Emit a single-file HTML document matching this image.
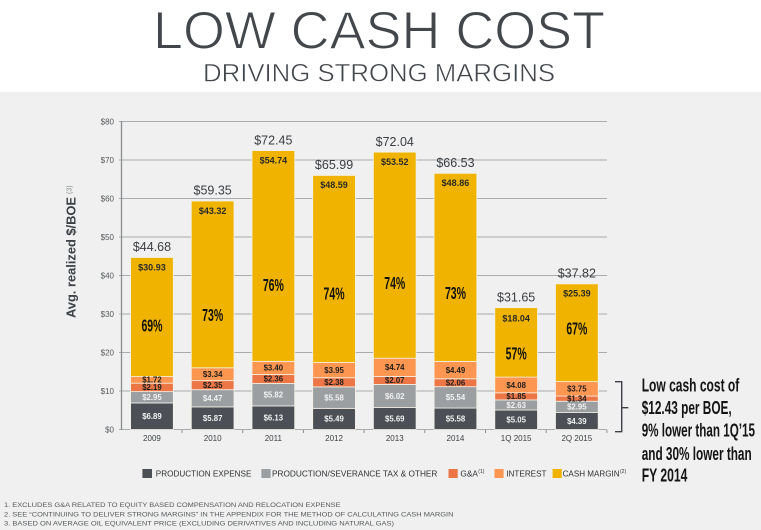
<!DOCTYPE html>
<html><head><meta charset="utf-8"><style>
html,body{margin:0;padding:0;background:#fff;}
svg{display:block;font-family:"Liberation Sans",sans-serif;}
</style></head><body>
<svg width="761" height="530" viewBox="0 0 761 530" xmlns="http://www.w3.org/2000/svg">
<rect x="0" y="0" width="761" height="92" fill="#ffffff"/>
<rect x="0" y="92" width="761" height="438" fill="#eff0ef"/>
<!-- Titles -->
<text x="153" y="48.3" font-size="52.5" fill="#43474c" stroke="#ffffff" stroke-width="1.1" textLength="452" lengthAdjust="spacingAndGlyphs">LOW CASH COST</text>
<text x="203" y="81.7" font-size="25" fill="#43474c" stroke="#ffffff" stroke-width="0.5" textLength="352" lengthAdjust="spacingAndGlyphs">DRIVING STRONG MARGINS</text>

<!-- grid -->
<g stroke="#a9acae" stroke-width="1">
<line x1="119" y1="121.5" x2="607" y2="121.5"/>
<line x1="119" y1="160" x2="607" y2="160"/>
<line x1="119" y1="198.5" x2="607" y2="198.5"/>
<line x1="119" y1="237" x2="607" y2="237"/>
<line x1="119" y1="275.5" x2="607" y2="275.5"/>
<line x1="119" y1="314" x2="607" y2="314"/>
<line x1="119" y1="352.5" x2="607" y2="352.5"/>
<line x1="119" y1="391" x2="607" y2="391"/>
<line x1="119" y1="429.5" x2="607" y2="429.5"/>
</g>
<line x1="121.5" y1="121" x2="121.5" y2="430" stroke="#8a8d90" stroke-width="1.3"/>
<g stroke="#8a8d90" stroke-width="1">
<line x1="182" y1="430" x2="182" y2="433"/>
<line x1="242.7" y1="430" x2="242.7" y2="433"/>
<line x1="303.4" y1="430" x2="303.4" y2="433"/>
<line x1="364.1" y1="430" x2="364.1" y2="433"/>
<line x1="424.8" y1="430" x2="424.8" y2="433"/>
<line x1="485.5" y1="430" x2="485.5" y2="433"/>
<line x1="546.2" y1="430" x2="546.2" y2="433"/>
<line x1="606.9" y1="430" x2="606.9" y2="433"/>
</g>
<!-- y tick labels -->
<g font-size="8" fill="#55585c" text-anchor="end">
<text x="114" y="124.3">$80</text>
<text x="114" y="162.8">$70</text>
<text x="114" y="201.3">$60</text>
<text x="114" y="239.8">$50</text>
<text x="114" y="278.3">$40</text>
<text x="114" y="316.8">$30</text>
<text x="114" y="355.3">$20</text>
<text x="114" y="393.8">$10</text>
<text x="114" y="432.3">$0</text>
</g>
<!-- y axis title -->
<g transform="translate(75.5,318) rotate(-90)">
<text x="0" y="0" font-size="12.5" font-weight="bold" fill="#3d4045" textLength="121" lengthAdjust="spacingAndGlyphs">Avg. realized $/BOE</text>
<text x="124" y="-4" font-size="7" fill="#8a8d90">(3)</text>
</g>

<!-- bars -->
<g stroke="#f4f1e6" stroke-width="0.8">
<!-- 2009 -->
<rect x="130.6" y="402.97" width="42.7" height="26.53" fill="#4c5056"/>
<rect x="130.6" y="391.62" width="42.7" height="11.35" fill="#9c9fa2"/>
<rect x="130.6" y="383.18" width="42.7" height="8.44" fill="#ec7646"/>
<rect x="130.6" y="376.56" width="42.7" height="6.62" fill="#fd9650"/>
<rect x="130.6" y="257.48" width="42.7" height="119.08" fill="#f0b400"/>
<!-- 2010 -->
<rect x="191.3" y="406.90" width="42.7" height="22.60" fill="#4c5056"/>
<rect x="191.3" y="389.69" width="42.7" height="17.21" fill="#9c9fa2"/>
<rect x="191.3" y="380.64" width="42.7" height="9.05" fill="#ec7646"/>
<rect x="191.3" y="367.78" width="42.7" height="12.86" fill="#fd9650"/>
<rect x="191.3" y="201.00" width="42.7" height="166.78" fill="#f0b400"/>
<!-- 2011 -->
<rect x="252.0" y="405.90" width="42.7" height="23.60" fill="#4c5056"/>
<rect x="252.0" y="383.49" width="42.7" height="22.41" fill="#9c9fa2"/>
<rect x="252.0" y="374.41" width="42.7" height="9.08" fill="#ec7646"/>
<rect x="252.0" y="361.32" width="42.7" height="13.09" fill="#fd9650"/>
<rect x="252.0" y="150.57" width="42.7" height="210.75" fill="#f0b400"/>
<!-- 2012 -->
<rect x="312.7" y="408.36" width="42.7" height="21.14" fill="#4c5056"/>
<rect x="312.7" y="386.88" width="42.7" height="21.48" fill="#9c9fa2"/>
<rect x="312.7" y="377.72" width="42.7" height="9.16" fill="#ec7646"/>
<rect x="312.7" y="362.51" width="42.7" height="15.21" fill="#fd9650"/>
<rect x="312.7" y="175.44" width="42.7" height="187.07" fill="#f0b400"/>
<!-- 2013 -->
<rect x="373.4" y="407.59" width="42.7" height="21.91" fill="#4c5056"/>
<rect x="373.4" y="384.42" width="42.7" height="23.17" fill="#9c9fa2"/>
<rect x="373.4" y="376.45" width="42.7" height="7.97" fill="#ec7646"/>
<rect x="373.4" y="358.20" width="42.7" height="18.25" fill="#fd9650"/>
<rect x="373.4" y="152.15" width="42.7" height="206.05" fill="#f0b400"/>
<!-- 2014 -->
<rect x="434.1" y="408.02" width="42.7" height="21.48" fill="#4c5056"/>
<rect x="434.1" y="386.69" width="42.7" height="21.33" fill="#9c9fa2"/>
<rect x="434.1" y="378.76" width="42.7" height="7.93" fill="#ec7646"/>
<rect x="434.1" y="361.47" width="42.7" height="17.29" fill="#fd9650"/>
<rect x="434.1" y="173.36" width="42.7" height="188.11" fill="#f0b400"/>
<!-- 1Q 2015 -->
<rect x="494.8" y="410.06" width="42.7" height="19.44" fill="#4c5056"/>
<rect x="494.8" y="399.93" width="42.7" height="10.13" fill="#9c9fa2"/>
<rect x="494.8" y="392.81" width="42.7" height="7.12" fill="#ec7646"/>
<rect x="494.8" y="377.10" width="42.7" height="15.71" fill="#fd9650"/>
<rect x="494.8" y="307.65" width="42.7" height="69.45" fill="#f0b400"/>
<!-- 2Q 2015 -->
<rect x="555.5" y="412.60" width="42.7" height="16.90" fill="#4c5056"/>
<rect x="555.5" y="401.24" width="42.7" height="11.36" fill="#9c9fa2"/>
<rect x="555.5" y="396.08" width="42.7" height="5.16" fill="#ec7646"/>
<rect x="555.5" y="381.64" width="42.7" height="14.44" fill="#fd9650"/>
<rect x="555.5" y="283.89" width="42.7" height="97.75" fill="#f0b400"/>
</g>

<!-- segment labels white -->
<g font-size="7.8" font-weight="bold" fill="#f2f2f2" text-anchor="middle">
<text x="151.95" y="419.0">$6.89</text><text x="151.95" y="400.1">$2.95</text>
<text x="212.65" y="421.0">$5.87</text><text x="212.65" y="401.1">$4.47</text>
<text x="273.35" y="420.5">$6.13</text><text x="273.35" y="397.5">$5.82</text>
<text x="334.05" y="421.7">$5.49</text><text x="334.05" y="400.4">$5.58</text>
<text x="394.75" y="421.3">$5.69</text><text x="394.75" y="398.8">$6.02</text>
<text x="455.45" y="421.6">$5.58</text><text x="455.45" y="400.2">$5.54</text>
<text x="516.15" y="422.6">$5.05</text><text x="516.15" y="407.8">$2.63</text>
<text x="576.85" y="423.8">$4.39</text><text x="576.85" y="409.7">$2.95</text>
</g>
<!-- segment labels dark -->
<g font-size="7.8" font-weight="bold" fill="#1e1e1e" text-anchor="middle">
<text x="151.95" y="390.2">$2.19</text><text x="151.95" y="382.7">$1.72</text>
<text x="212.65" y="388.0">$2.35</text><text x="212.65" y="377.0">$3.34</text>
<text x="273.35" y="381.7">$2.36</text><text x="273.35" y="370.7">$3.40</text>
<text x="334.05" y="385.1">$2.38</text><text x="334.05" y="372.9">$3.95</text>
<text x="394.75" y="383.2">$2.07</text><text x="394.75" y="370.1">$4.74</text>
<text x="455.45" y="385.5">$2.06</text><text x="455.45" y="372.9">$4.49</text>
<text x="516.15" y="399.2">$1.85</text><text x="516.15" y="387.8">$4.08</text>
<text x="576.85" y="401.5">$1.34</text><text x="576.85" y="391.7">$3.75</text>
</g>
<!-- cash margin labels -->
<g font-size="9" font-weight="bold" fill="#2a2a2a" text-anchor="middle">
<text x="151.95" y="270.3">$30.93</text>
<text x="212.65" y="213.8">$43.32</text>
<text x="273.35" y="163.4">$54.74</text>
<text x="334.05" y="188.2">$48.59</text>
<text x="394.75" y="165.0">$53.52</text>
<text x="455.45" y="186.2">$48.86</text>
<text x="516.15" y="321.6">$18.04</text>
<text x="576.85" y="296.7">$25.39</text>
</g>
<!-- totals -->
<g font-size="12.5" fill="#3a3d42" text-anchor="middle">
<text x="151.95" y="251.2">$44.68</text>
<text x="212.65" y="194.7">$59.35</text>
<text x="273.35" y="144.3">$72.45</text>
<text x="334.05" y="169.1">$65.99</text>
<text x="394.75" y="145.8">$72.04</text>
<text x="455.45" y="167.0">$66.53</text>
<text x="516.15" y="301.3">$31.65</text>
<text x="576.85" y="277.5">$37.82</text>
</g>
<!-- percentages -->
<g font-size="17.5" font-weight="bold" fill="#111" text-anchor="middle">
<text x="151.95" y="331.7" textLength="21" lengthAdjust="spacingAndGlyphs">69%</text>
<text x="212.65" y="321.2" textLength="21" lengthAdjust="spacingAndGlyphs">73%</text>
<text x="273.35" y="291.2" textLength="21" lengthAdjust="spacingAndGlyphs">76%</text>
<text x="334.05" y="299.5" textLength="21" lengthAdjust="spacingAndGlyphs">74%</text>
<text x="394.75" y="288.9" textLength="21" lengthAdjust="spacingAndGlyphs">74%</text>
<text x="455.45" y="298.9" textLength="21" lengthAdjust="spacingAndGlyphs">73%</text>
<text x="516.15" y="359.5" textLength="21" lengthAdjust="spacingAndGlyphs">57%</text>
<text x="576.85" y="334.5" textLength="21" lengthAdjust="spacingAndGlyphs">67%</text>
</g>
<!-- x labels -->
<g font-size="8" fill="#3d4045" text-anchor="middle">
<text x="151.95" y="441.2">2009</text>
<text x="212.65" y="441.2">2010</text>
<text x="273.35" y="441.2">2011</text>
<text x="334.05" y="441.2">2012</text>
<text x="394.75" y="441.2">2013</text>
<text x="455.45" y="441.2">2014</text>
<text x="516.15" y="441.2">1Q 2015</text>
<text x="576.85" y="441.2">2Q 2015</text>
</g>

<!-- bracket -->
<path d="M615,381.7 L621.7,381.7 L621.7,431.7 L615,431.7 M621.7,407.7 L628.3,407.7" fill="none" stroke="#3d4045" stroke-width="1.4"/>
<!-- annotation -->
<g font-size="18" font-weight="bold" fill="#141414">
<text x="641.7" y="391.5" textLength="97.6" lengthAdjust="spacingAndGlyphs">Low cash cost of</text>
<text x="641.7" y="414.2" textLength="90" lengthAdjust="spacingAndGlyphs">$12.43 per BOE,</text>
<text x="641.7" y="436.5" textLength="113.3" lengthAdjust="spacingAndGlyphs">9% lower than 1Q’15</text>
<text x="641.7" y="459.8" textLength="110" lengthAdjust="spacingAndGlyphs">and 30% lower than</text>
<text x="641.7" y="481.5" textLength="45.7" lengthAdjust="spacingAndGlyphs">FY 2014</text>
</g>

<!-- legend -->
<rect x="142.4" y="469" width="9.6" height="9" fill="#4c5056"/>
<rect x="261.4" y="469" width="9.2" height="9" fill="#9c9fa2"/>
<rect x="448.5" y="469" width="9.2" height="9" fill="#ec7646"/>
<rect x="494.5" y="469" width="9.1" height="9" fill="#fd9650"/>
<rect x="552.6" y="469" width="9.2" height="9" fill="#f0b400"/>
<g font-size="8" fill="#2e3035">
<text x="155.8" y="476.6" textLength="95.6" lengthAdjust="spacingAndGlyphs">PRODUCTION EXPENSE</text>
<text x="272" y="476.6" textLength="165.4" lengthAdjust="spacingAndGlyphs">PRODUCTION/SEVERANCE TAX &amp; OTHER</text>
<text x="460.4" y="476.6" textLength="17.5" lengthAdjust="spacingAndGlyphs">G&amp;A</text>
<text x="478.3" y="473" font-size="5">(1)</text>
<text x="506.3" y="476.6" textLength="40.2" lengthAdjust="spacingAndGlyphs">INTEREST</text>
<text x="562.6" y="476.6" textLength="57" lengthAdjust="spacingAndGlyphs">CASH MARGIN</text>
<text x="620" y="473" font-size="5">(2)</text>
</g>

<!-- footnotes -->
<g font-size="6.8" fill="#56595d">
<text x="4" y="506.8" textLength="336.6" lengthAdjust="spacingAndGlyphs">1. EXCLUDES G&amp;A RELATED TO EQUITY BASED COMPENSATION AND RELOCATION EXPENSE</text>
<text x="4" y="516.4" textLength="449.5" lengthAdjust="spacingAndGlyphs">2. SEE “CONTINUING TO DELIVER STRONG MARGINS” IN THE APPENDIX FOR THE METHOD OF CALCULATING CASH MARGIN</text>
<text x="4" y="525.5" textLength="390" lengthAdjust="spacingAndGlyphs">3. BASED ON AVERAGE OIL EQUIVALENT PRICE (EXCLUDING DERIVATIVES AND INCLUDING NATURAL GAS)</text>
</g>
</svg>
</body></html>
